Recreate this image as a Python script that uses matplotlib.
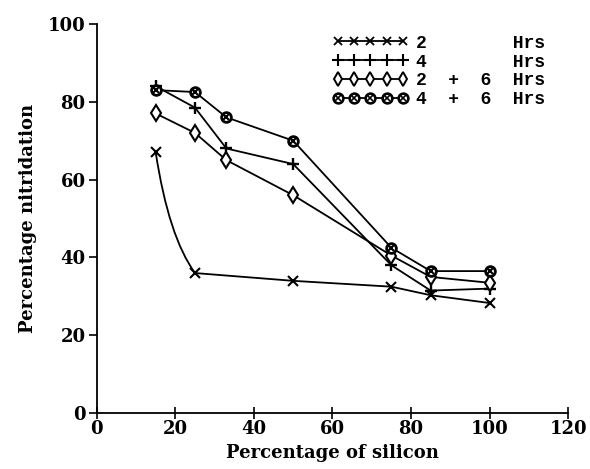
import matplotlib
matplotlib.use("Agg")
import matplotlib.pyplot as plt
from matplotlib.lines import Line2D
from matplotlib.path import Path
from matplotlib.patches import PathPatch
from matplotlib.legend_handler import HandlerTuple

# percentage of silicon in the compact
silicon = [15, 25, 33, 50, 75, 85, 100]
silicon_2h = [15, 25, 50, 75, 85, 100]

# percentage nitridation for each firing schedule
nit_2h = [67, 36, 34, 32.5, 30.3, 28.3]
nit_4h = [84, 78.5, 68, 64, 38, 31.5, 32]
nit_2_6h = [77, 72, 65, 56, 40.5, 35, 33.5]
nit_4_6h = [83, 82.5, 76, 70, 42.5, 36.5, 36.5]

labels = ["2        Hrs", "4        Hrs", "2  +  6  Hrs", "4  +  6  Hrs"]
x_ticks = [0, 20, 40, 60, 80, 100, 120]
y_ticks = [0, 20, 40, 60, 80, 100]

plt.rcParams['font.family'] = 'DejaVu Serif'
plt.rcParams['font.weight'] = 'bold'

fig = plt.figure(figsize=(5.9, 4.69), dpi=100)
ax = fig.add_axes([0.164, 0.119, 0.799, 0.830])

lw = 1.3
ms = 8

# 2 Hrs: first segment drawn as a smooth curve, the rest straight
x0, x1 = silicon_2h[0], silicon_2h[1]
y0, y1 = nit_2h[0], nit_2h[1]
ctrl = (x0 + 0.33 * (x1 - x0), y1 + 0.3 * (y0 - y1))
verts = [(x0, y0), ctrl, (x1, y1)] + list(zip(silicon_2h[2:], nit_2h[2:]))
codes = [Path.MOVETO, Path.CURVE3, Path.CURVE3] + [Path.LINETO] * (len(silicon_2h) - 2)
ax.add_patch(PathPatch(Path(verts, codes), fill=False, lw=lw, ec='black'))
ax.plot(silicon_2h, nit_2h, ls='none', marker='x', ms=ms - 1, mew=1.5, color='black')

ax.plot(silicon, nit_4h, color='black', lw=lw, marker='+', ms=ms + 1, mew=1.7)
ax.plot(silicon, nit_2_6h, color='black', lw=lw, marker='d', ms=ms,
        mfc='white', mec='black', mew=1.5)
ax.plot(silicon, nit_4_6h, color='black', lw=lw, marker='o', ms=ms - 1,
        mfc='white', mec='black', mew=2.0)
ax.plot(silicon, nit_4_6h, ls='none', marker='x', ms=ms - 3, mew=1.5, color='black')

# legend handles
h_2h = Line2D([], [], color='black', lw=lw, marker='x', ms=6, mew=1.3)
h_4h = Line2D([], [], color='black', lw=lw, marker='+', ms=8, mew=1.5)
h_26 = Line2D([], [], color='black', lw=lw, marker='d', ms=7, mfc='white', mew=1.4)
h_46o = Line2D([], [], color='black', lw=lw, marker='o', ms=7, mfc='white', mew=1.9)
h_46x = Line2D([], [], ls='none', color='black', marker='x', ms=4, mew=1.2)

leg = ax.legend([h_2h, h_4h, h_26, (h_46o, h_46x)], labels,
                handler_map={tuple: HandlerTuple(ndivide=1)},
                numpoints=5, loc='upper left', bbox_to_anchor=(0.50, 0.972),
                frameon=False, borderpad=0, borderaxespad=0,
                handlelength=4.2, handletextpad=0.4, labelspacing=0.1,
                prop={'family': 'Liberation Mono', 'weight': 'bold', 'size': 13})

ax.set_xlim(0, 120)
ax.set_ylim(0, 100)
ax.set_xticks(x_ticks)
ax.set_yticks(y_ticks)
ax.spines['top'].set_visible(False)
ax.spines['right'].set_visible(False)
for s in ('left', 'bottom'):
    ax.spines[s].set_linewidth(1.3)
ax.tick_params(axis='x', direction='inout', length=8, width=1.2, labelsize=13, pad=1)
ax.tick_params(axis='y', direction='out', length=6, width=1.2, labelsize=13, pad=2)

ax.set_xlabel('Percentage of silicon', fontsize=13, fontweight='bold', labelpad=4)
ax.set_ylabel('Percentage nitridation', fontsize=13, fontweight='bold', labelpad=8)

fig.savefig('out.png', dpi=100)
